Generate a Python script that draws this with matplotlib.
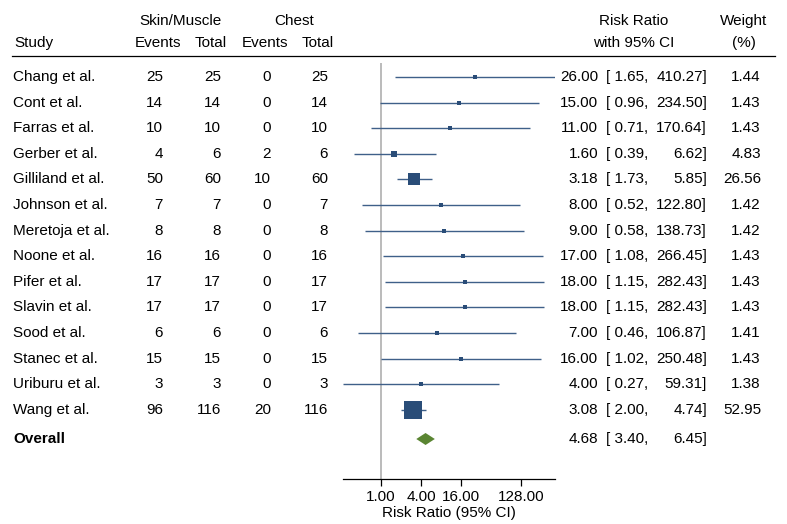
import numpy as np
import matplotlib
matplotlib.use("Agg")
import matplotlib.pyplot as plt

plt.rcParams['font.family'] = ['Liberation Sans', 'DejaVu Sans']

studies = ["Chang et al.", "Cont et al.", "Farras et al.", "Gerber et al.", "Gilliland et al.",
           "Johnson et al.", "Meretoja et al.", "Noone et al.", "Pifer et al.", "Slavin et al.",
           "Sood et al.", "Stanec et al.", "Uriburu et al.", "Wang et al."]
skin_events = [25, 14, 10, 4, 50, 7, 8, 16, 17, 17, 6, 15, 3, 96]
skin_total = [25, 14, 10, 6, 60, 7, 8, 16, 17, 17, 6, 15, 3, 116]
chest_events = [0, 0, 0, 2, 10, 0, 0, 0, 0, 0, 0, 0, 0, 20]
chest_total = [25, 14, 10, 6, 60, 7, 8, 16, 17, 17, 6, 15, 3, 116]
rr = [26.00, 15.00, 11.00, 1.60, 3.18, 8.00, 9.00, 17.00, 18.00, 18.00, 7.00, 16.00, 4.00, 3.08]
ci_lo = [1.65, 0.96, 0.71, 0.39, 1.73, 0.52, 0.58, 1.08, 1.15, 1.15, 0.46, 1.02, 0.27, 2.00]
ci_hi = [410.27, 234.50, 170.64, 6.62, 5.85, 122.80, 138.73, 266.45, 282.43, 282.43, 106.87,
         250.48, 59.31, 4.74]
weight = [1.44, 1.43, 1.43, 4.83, 26.56, 1.42, 1.42, 1.43, 1.43, 1.43, 1.41, 1.43, 1.38, 52.95]
overall = (4.68, 3.40, 6.45)
xticks = [1, 4, 16, 128]

W, H = 787, 524
navy = '#2a4d78'
line_col = '#3f6089'
green = '#5a8532'
fs = 11

fig = plt.figure(figsize=(W / 100, H / 100), dpi=100)
bg = fig.add_axes([0, 0, 1, 1])
bg.set_xlim(0, W)
bg.set_ylim(H, 0)
bg.axis('off')

row0, step = 77, 25.6
def ypix(r):
    return row0 + step * r
r_over = (439 - row0) / step

# header
bg.text(180, 21, "Skin/Muscle", ha='center', va='center', fontsize=fs)
bg.text(294, 21, "Chest", ha='center', va='center', fontsize=fs)
bg.text(634, 21, "Risk Ratio", ha='center', va='center', fontsize=fs)
bg.text(744, 21, "Weight", ha='center', va='center', fontsize=fs)
bg.text(14, 43, "Study", ha='left', va='center', fontsize=fs)
for x, s in [(158, "Events"), (211, "Total"), (265, "Events"), (318, "Total")]:
    bg.text(x, 43, s, ha='center', va='center', fontsize=fs)
bg.text(634, 43, "with 95% CI", ha='center', va='center', fontsize=fs)
bg.text(744, 43, "(%)", ha='center', va='center', fontsize=fs)
bg.plot([12, 775], [56, 56], color='black', lw=0.9)

# table rows
for i, name in enumerate(studies):
    y = ypix(i)
    bg.text(13, y, name, ha='left', va='center', fontsize=fs)
    bg.text(163, y, str(skin_events[i]), ha='right', va='center', fontsize=fs)
    bg.text(221, y, str(skin_total[i]), ha='right', va='center', fontsize=fs)
    bg.text(271, y, str(chest_events[i]), ha='right', va='center', fontsize=fs)
    bg.text(328, y, str(chest_total[i]), ha='right', va='center', fontsize=fs)
    bg.text(598, y, f"{rr[i]:.2f}", ha='right', va='center', fontsize=fs)
    bg.text(648, y, f"[ {ci_lo[i]:.2f},", ha='right', va='center', fontsize=fs)
    bg.text(707, y, f"{ci_hi[i]:.2f}]", ha='right', va='center', fontsize=fs)
    bg.text(761, y, f"{weight[i]:.2f}", ha='right', va='center', fontsize=fs)

y = ypix(r_over)
bg.text(13, y, "Overall", ha='left', va='center', fontsize=fs, fontweight='bold')
bg.text(598, y, f"{overall[0]:.2f}", ha='right', va='center', fontsize=fs)
bg.text(648, y, f"[ {overall[1]:.2f},", ha='right', va='center', fontsize=fs)
bg.text(707, y, f"{overall[2]:.2f}]", ha='right', va='center', fontsize=fs)

# forest panel
x0, x1, ytop, ybot = 343, 555, 63, 479
ax = fig.add_axes([x0 / W, 1 - ybot / H, (x1 - x0) / W, (ybot - ytop) / H])
ax.set_xscale('log', base=2)
ax.set_xlim(min(ci_lo), max(ci_hi))
ax.set_ylim((ybot - row0) / step, (ytop - row0) / step)
ax.patch.set_alpha(0)
for s in ['top', 'right', 'left']:
    ax.spines[s].set_visible(False)
ax.spines['bottom'].set_linewidth(0.9)
ax.set_yticks([])
ax.axvline(1, color='#a8a8a8', lw=1.1, zorder=0)

rows = np.arange(len(studies))
ax.hlines(rows, ci_lo, ci_hi, color=line_col, lw=1.0)
wmax = max(weight)
for i in rows:
    side = max(17.5 * np.sqrt(weight[i] / wmax), 4.3)
    ax.plot(rr[i], i, marker='s', ms=side * 0.72, color=navy, mec=navy, mew=0, ls='none')

dh = 6 / step
est, lo, hi = overall
ax.fill([lo, est, hi, est], [r_over, r_over - dh, r_over, r_over + dh], color=green, lw=0)

ax.set_xticks(xticks)
ax.set_xticklabels([f"{t:.2f}" for t in xticks], fontsize=fs)
ax.minorticks_off()
ax.tick_params(axis='x', length=5, width=0.9, pad=3)
ax.set_xlabel("Risk Ratio (95% CI)", fontsize=fs, labelpad=1)

fig.savefig("out.png", dpi=100)
